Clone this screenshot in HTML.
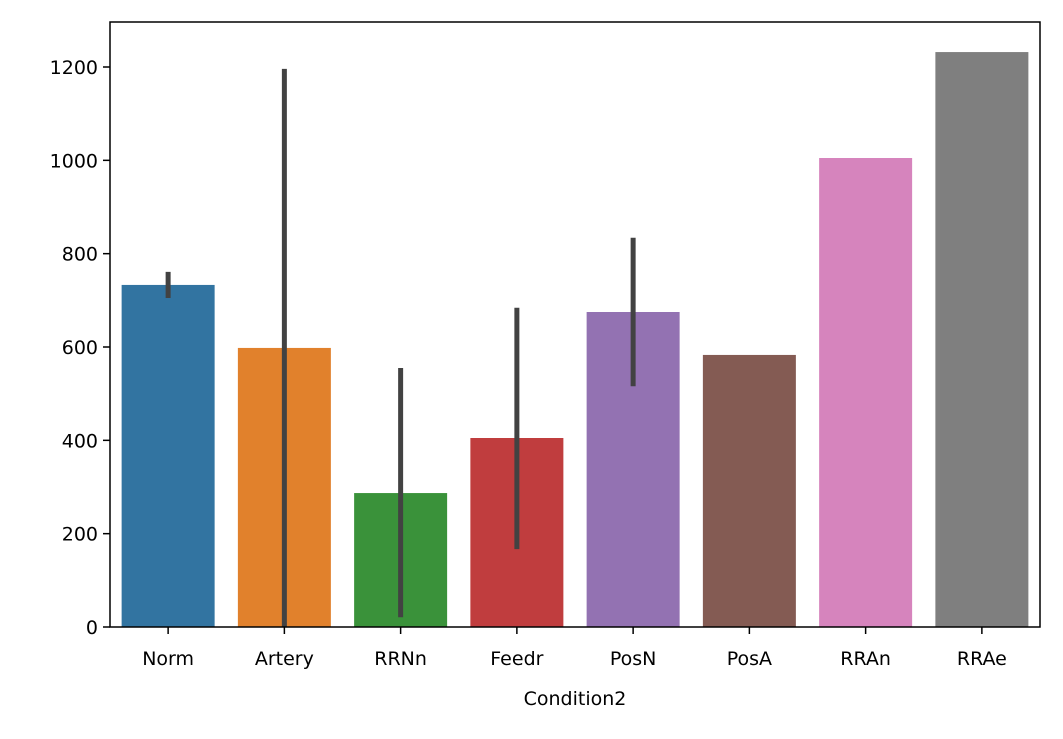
<!DOCTYPE html>
<html><head><meta charset="utf-8"><style>
body{margin:0;background:#fff}
svg text{font-family:"DejaVu Sans","Liberation Sans",sans-serif;fill:#000}
</style></head><body>
<svg id="chart" width="1063" height="734" xmlns="http://www.w3.org/2000/svg"></svg>
<script>
const categories=["Norm","Artery","RRNn","Feedr","PosN","PosA","RRAn","RRAe"];
const values=[733,598,287,405,675,583,1005,1232];
const errLow=[705,0,21,167,516,null,null,null];
const errHigh=[761,1196,555,684,834,null,null,null];
const yTicks=[0,200,400,600,800,1000,1200];
const colors=["#3274a1","#e1812c","#3a923a","#c03d3e","#9372b2","#845b53","#d684bd","#7f7f7f"];
const L=110,R=1040,T=22,B=627;
const svg=document.getElementById('chart');
const NS="http://www.w3.org/2000/svg";
const y=v=>B-v*(B-67)/1200;
const band=(R-L)/categories.length;
const xc=i=>L+band*(i+0.5);
function mk(t,a,p){const e=document.createElementNS(NS,t);for(const k in a)e.setAttribute(k,a[k]);(p||svg).appendChild(e);return e;}
categories.forEach((c,i)=>{
 const r=mk('rect',{x:xc(i)-band*0.4,y:y(values[i]),width:band*0.8,height:B-y(values[i]),fill:colors[i]});
 
 
 if(errLow[i]!==null){
  const l=mk('line',{x1:xc(i),x2:xc(i),y1:y(errLow[i]),y2:y(errHigh[i]),stroke:'#424242','stroke-width':5});
  
  
 }
 mk('line',{x1:xc(i),x2:xc(i),y1:B,y2:B+7,stroke:'#000','stroke-width':1.5});
 const t=mk('text',{x:xc(i),y:B+38,'text-anchor':'middle','font-size':19});
 t.textContent=c;
 
 
});
yTicks.forEach(v=>{
 mk('line',{x1:L-7,x2:L,y1:y(v),y2:y(v),stroke:'#000','stroke-width':1.5});
 const t=mk('text',{x:L-12,y:y(v)+7,'text-anchor':'end','font-size':19});
 t.textContent=v;
 
 
});
const f=mk('rect',{x:L,y:T,width:R-L,height:B-T,fill:'none',stroke:'#000','stroke-width':1.5});


const xl=mk('text',{x:(L+R)/2,y:705,'text-anchor':'middle','font-size':19});
xl.textContent='Condition2';


</script>
</body></html>
